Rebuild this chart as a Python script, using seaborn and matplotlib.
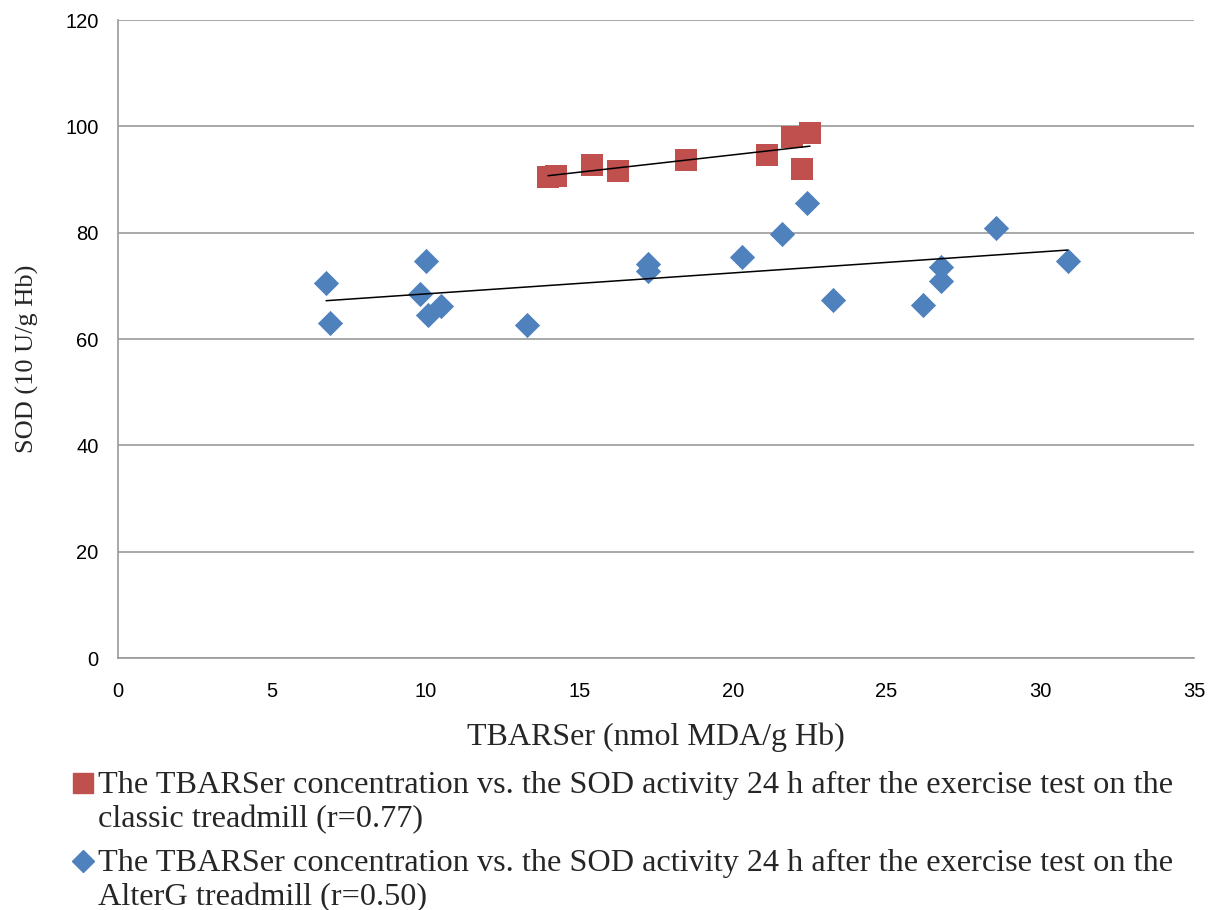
import numpy as np
import pandas as pd
import matplotlib
matplotlib.use("Agg")
import matplotlib.pyplot as plt
from matplotlib.lines import Line2D
from matplotlib.legend_handler import HandlerLine2D
import seaborn as sns

sns.set_style("white")

# ==========================================
# Data
# ==========================================

# Classic treadmill
classic_tbars = [13.99, 14.25, 15.41, 16.25, 18.47, 21.10, 21.91, 22.51, 22.26]
classic_sod = [90.5, 90.7, 92.7, 91.6, 93.7, 94.7, 98.0, 98.8, 92.0]

# AlterG treadmill
alterg_tbars = [6.77, 6.90, 10.02, 9.84, 10.10, 10.50, 13.30, 17.23, 17.23,
                20.31, 21.59, 22.40, 23.27, 26.18, 26.76, 26.76, 28.55, 30.89]
alterg_sod = [70.5, 63.0, 74.7, 68.5, 64.5, 66.2, 62.6, 74.2, 72.7,
              75.4, 79.7, 85.5, 67.3, 66.4, 73.6, 71.0, 80.9, 74.7]

classic_label = ("The TBARSer concentration vs. the SOD activity 24 h after the exercise test on the\n"
                 "classic treadmill (r=0.77)")
alterg_label = ("The TBARSer concentration vs. the SOD activity 24 h after the exercise test on the\n"
                "AlterG treadmill (r=0.50)")

x_ticks = [0, 5, 10, 15, 20, 25, 30, 35]
y_ticks = [0, 20, 40, 60, 80, 100, 120]

classic = pd.DataFrame({"x": classic_tbars, "y": classic_sod})
alterg = pd.DataFrame({"x": alterg_tbars, "y": alterg_sod})

red = "#C0504D"
blue = "#4F81BD"
grey = "#9A9A9A"


# Legend handler that puts the marker next to the first text line
class FirstLineHandler(HandlerLine2D):
    def __init__(self, shift, **kw):
        super().__init__(**kw)
        self.shift = shift

    def create_artists(self, legend, orig_handle, xdescent, ydescent,
                       width, height, fontsize, trans):
        return super().create_artists(legend, orig_handle, xdescent,
                                      ydescent - 2 * self.shift, width, height,
                                      fontsize, trans)


# ==========================================
# Plot
# ==========================================

fig = plt.figure(figsize=(12.2, 9.1), dpi=100)
ax = fig.add_axes([0.0967, 0.2769, 0.8820, 0.7011])

# Horizontal gridlines
ax.set_axisbelow(True)
ax.yaxis.grid(True, color=grey, linewidth=1.2)

sns.scatterplot(data=alterg, x="x", y="y", ax=ax, marker="D", s=165,
                color=blue, linewidth=0, zorder=3)
sns.scatterplot(data=classic, x="x", y="y", ax=ax, marker="s", s=260,
                color=red, linewidth=0, zorder=3)

# Linear trend lines
sns.regplot(data=alterg, x="x", y="y", ax=ax, scatter=False, ci=None,
            truncate=True, line_kws={"color": "black", "linewidth": 1.1, "zorder": 4})
sns.regplot(data=classic, x="x", y="y", ax=ax, scatter=False, ci=None,
            truncate=True, line_kws={"color": "black", "linewidth": 1.1, "zorder": 4})

ax.set_xlim(0, 35)
ax.set_ylim(0, 120)
ax.set_xticks(x_ticks)
ax.set_yticks(y_ticks)

for side in ["top", "right"]:
    ax.spines[side].set_visible(False)
for side in ["left", "bottom"]:
    ax.spines[side].set_color(grey)
    ax.spines[side].set_linewidth(1.2)

ax.tick_params(axis="both", direction="out", length=6, width=1.2, color=grey,
               labelsize=14.5, labelcolor="black")
for lbl in ax.get_xticklabels() + ax.get_yticklabels():
    lbl.set_family("Liberation Sans")
ax.tick_params(axis="x", pad=11)
ax.tick_params(axis="y", pad=8)

ax.set_xlabel("TBARSer (nmol MDA/g Hb)", family="Liberation Serif", fontsize=23, labelpad=16)
ax.set_ylabel("SOD (10 U/g Hb)", family="Liberation Serif", fontsize=19)
ax.yaxis.set_label_coords(-0.073, 0.469)

# Legend below the plot
handles = [
    Line2D([], [], marker="s", color=red, linestyle="none", markersize=15),
    Line2D([], [], marker="D", color=blue, linestyle="none", markersize=11),
]
leg = fig.legend(handles, [classic_label, alterg_label], loc="upper left",
                 bbox_to_anchor=(0.042, 0.178), frameon=False, handlelength=0.6,
                 handletextpad=0.15, labelspacing=0.47, borderpad=0.2,
                 prop={"family": "Liberation Serif", "size": 23.2},
                 handler_map={Line2D: FirstLineHandler(shift=13.5)})
for t in leg.get_texts():
    t.set_linespacing(1.22)

fig.savefig("out.png", dpi=100)
